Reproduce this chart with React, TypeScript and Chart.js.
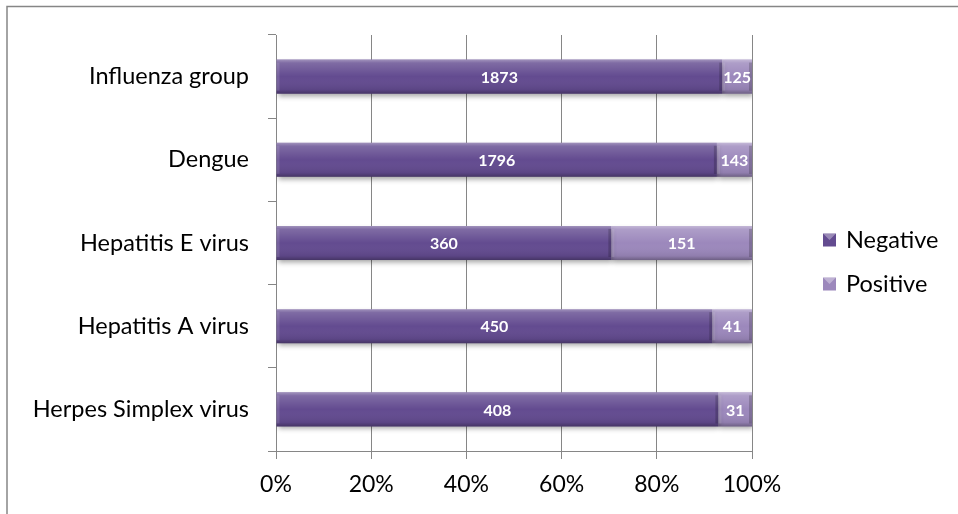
import React, { useEffect, useRef } from "react";
import { Chart, registerables } from "chart.js";
Chart.register(...registerables);

const categories = [
  "Influenza group",
  "Dengue",
  "Hepatitis E virus",
  "Hepatitis A virus",
  "Herpes Simplex virus",
];
const negative = [1873, 1796, 360, 450, 408];
const positive = [125, 143, 151, 41, 31];
const seriesNames = ["Negative", "Positive"];
const seriesColors = ["#634b90", "#9c88bc"];

const FONT = "Lato, 'Open Sans', sans-serif";

const negPct = negative.map((v, i) => (v / (v + positive[i])) * 100);
const posPct = positive.map((v, i) => (v / (negative[i] + v)) * 100);
const rawValues = [negative, positive];

const framePlugin = {
  id: "frame",
  beforeDraw(chart: any) {
    const ctx = chart.ctx;
    ctx.save();
    ctx.strokeStyle = "#868686";
    ctx.lineWidth = 1.5;
    ctx.beginPath();
    ctx.moveTo(7, 520);
    ctx.lineTo(7, 6.5);
    ctx.lineTo(970, 6.5);
    ctx.stroke();
    ctx.restore();
  },
};

const shadowPlugin = {
  id: "barShadow",
  beforeDatasetsDraw(chart: any) {
    const ctx = chart.ctx;
    ctx.save();
    ctx.shadowColor = "rgba(0,0,0,0.35)";
    ctx.shadowBlur = 5;
    ctx.shadowOffsetY = 3;
    ctx.shadowOffsetX = 1;
  },
  afterDatasetsDraw(chart: any) {
    chart.ctx.restore();
  },
};

const bevelLabelPlugin = {
  id: "bevelLabels",
  afterDatasetsDraw(chart: any) {
    const ctx = chart.ctx;
    chart.data.datasets.forEach((ds: any, di: number) => {
      const meta = chart.getDatasetMeta(di);
      meta.data.forEach((bar: any, i: number) => {
        const left = Math.min(bar.base, bar.x);
        const right = Math.max(bar.base, bar.x);
        const top = bar.y - bar.height / 2;
        const h = bar.height;
        const w = right - left;
        ctx.save();
        const g = ctx.createLinearGradient(0, top, 0, top + h);
        g.addColorStop(0, "rgba(255,255,255,0.40)");
        g.addColorStop(0.1, "rgba(255,255,255,0.18)");
        g.addColorStop(0.5, "rgba(255,255,255,0.0)");
        g.addColorStop(0.88, "rgba(0,0,0,0.08)");
        g.addColorStop(1, "rgba(0,0,0,0.30)");
        ctx.fillStyle = g;
        ctx.fillRect(left, top, w, h);
        ctx.fillStyle = "rgba(255,255,255,0.12)";
        ctx.fillRect(left, top + 3, 3, h - 6);
        ctx.fillStyle = "rgba(0,0,0,0.18)";
        ctx.fillRect(right - 3, top + 3, 3, h - 6);
        ctx.fillStyle = "#ffffff";
        ctx.font = `bold 16px ${FONT}`;
        ctx.textAlign = "center";
        ctx.textBaseline = "middle";
        ctx.fillText(String(rawValues[di][i]), (left + right) / 2, bar.y + 1);
        ctx.restore();
      });
    });
  },
};

const legendPlugin = {
  id: "customLegend",
  afterDraw(chart: any) {
    const ctx = chart.ctx;
    const items = [
      { y: 240, i: 0 },
      { y: 284, i: 1 },
    ];
    items.forEach(({ y, i }) => {
      ctx.save();
      const x = 823;
      const s = 13;
      ctx.fillStyle = seriesColors[i];
      ctx.fillRect(x, y - s / 2, s, s);
      ctx.fillStyle = "rgba(255,255,255,0.35)";
      ctx.beginPath();
      ctx.moveTo(x, y - s / 2);
      ctx.lineTo(x + s, y - s / 2);
      ctx.lineTo(x + s / 2, y);
      ctx.closePath();
      ctx.fill();
      ctx.fillStyle = "#000000";
      ctx.font = `23.5px ${FONT}`;
      ctx.textAlign = "left";
      ctx.textBaseline = "middle";
      ctx.fillText(seriesNames[i], x + s + 10, y);
      ctx.restore();
    });
  },
};

export default function App() {
  const ref = useRef<HTMLCanvasElement | null>(null);
  useEffect(() => {
    document.body.style.margin = "0";
    const chart = new Chart(ref.current as HTMLCanvasElement, {
      type: "bar",
      data: {
        labels: categories,
        datasets: [
          {
            label: seriesNames[0],
            data: negPct,
            backgroundColor: seriesColors[0],
            borderWidth: 0,
            categoryPercentage: 1,
            barPercentage: 0.41,
          },
          {
            label: seriesNames[1],
            data: posPct,
            backgroundColor: seriesColors[1],
            borderWidth: 0,
            categoryPercentage: 1,
            barPercentage: 0.41,
          },
        ],
      },
      options: {
        indexAxis: "y",
        animation: false,
        responsive: true,
        maintainAspectRatio: false,
        layout: { padding: { top: 35, right: 206, bottom: 0, left: 0 } },
        plugins: {
          legend: { display: false },
          tooltip: { enabled: false },
        },
        scales: {
          x: {
            stacked: true,
            min: 0,
            max: 100,
            ticks: {
              stepSize: 20,
              callback: (v: any) => v + "%",
              color: "#000",
              font: { family: FONT, size: 23 },
              padding: 12,
            },
            grid: { color: "#868686", lineWidth: 1, tickLength: 8 },
            border: { display: true, color: "#868686", width: 1 },
            afterFit: (s: any) => {
              s.height = 63;
            },
          },
          y: {
            stacked: true,
            ticks: {
              color: "#000",
              font: { family: FONT, size: 23.5 },
              padding: 19,
            },
            grid: {
              drawOnChartArea: false,
              color: "#868686",
              tickLength: 8,
              offset: true,
            },
            border: { display: true, color: "#868686", width: 1 },
            afterFit: (s: any) => {
              s.width = 276;
            },
          },
        },
      },
      plugins: [framePlugin, shadowPlugin, bevelLabelPlugin, legendPlugin],
    });
    return () => chart.destroy();
  }, []);
  return (
    <div style={{ position: "absolute", left: 0, top: 0, width: 958, height: 514 }}>
      <canvas ref={ref} />
    </div>
  );
}
